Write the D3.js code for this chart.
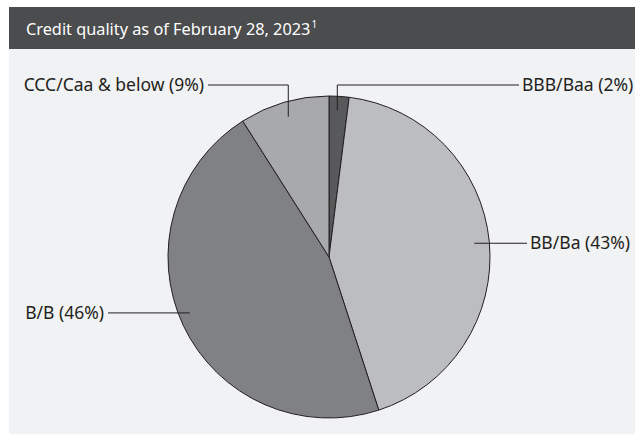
<!DOCTYPE html>
<html>
<head>
<meta charset="utf-8">
<script src="https://cdn.jsdelivr.net/npm/d3@7"></script>
<style>
  body { margin: 0; background: #fff; font-family: "Noto Sans", "Open Sans", sans-serif; }
</style>
</head>
<body>
<div id="chart"></div>
<script>
// chart data
var categories = ["BBB/Baa", "BB/Ba", "B/B", "CCC/Caa & below"];
var values = [2, 43, 46, 9];
var colors = ["#58595b", "#bcbdc0", "#808184", "#a7a9ac"];

var w = 635, h = 434;
var cx = 329, cy = 257, radius = 161;

var svg = d3.select("#chart").append("svg")
    .attr("width", w)
    .attr("height", h);

// panel + header
svg.append("rect").attr("x", 9).attr("y", 7).attr("width", w - 9).attr("height", h - 7)
    .attr("fill", "#f1f2f4");
svg.append("rect").attr("x", 9).attr("y", 7).attr("width", w - 9).attr("height", 42)
    .attr("fill", "#4b4c4e");
var title = svg.append("text").attr("x", 26).attr("y", 35)
    .attr("fill", "#fff").attr("font-size", "16.3px");
title.append("tspan").text("Credit quality as of February 28, 2023");
title.append("tspan").attr("font-size", "10px").attr("dy", -7).attr("dx", 1).text("1");

var data = categories.map((c, i) => ({ name: c, value: values[i], color: colors[i] }));

var pie = d3.pie().sort(null).value(d => d.value);
var arc = d3.arc().innerRadius(0).outerRadius(radius);

var g = svg.append("g").attr("transform", `translate(${cx},${cy})`);
var arcs = pie(data);

g.selectAll("path")
    .data(arcs)
    .join("path")
    .attr("d", arc)
    .attr("fill", d => d.data.color)
    .attr("stroke", "#231f20")
    .attr("stroke-width", 1);

// leader layout: angle fraction inside slice, radius of inner end, elbow y, label x
var leaders = [
    { t: 0.45, r: 147, elbowY: 85, endX: 519, side: "right" },
    { t: 0.5, r: 146, elbowY: null, endX: 527, side: "right" },
    { t: 0.52, r: 150, elbowY: null, endX: 108, side: "left" },
    { t: 0.5, r: 146, elbowY: 85, endX: 208, side: "left" }
];

arcs.forEach(function (a, i) {
    var L = leaders[i];
    var ang = a.startAngle + (a.endAngle - a.startAngle) * L.t;
    var px = cx + L.r * Math.sin(ang);
    var py = cy - L.r * Math.cos(ang);
    var pts;
    if (L.elbowY !== null) {
        pts = [[px, py], [px, L.elbowY], [L.endX, L.elbowY]];
    } else {
        pts = [[px, py], [L.endX, py]];
    }
    svg.append("path")
        .attr("d", d3.line()(pts))
        .attr("fill", "none")
        .attr("stroke", "#231f20")
        .attr("stroke-width", 1);
    var ly = pts[pts.length - 1][1];
    svg.append("text")
        .attr("x", L.side === "right" ? L.endX + 3 : L.endX - 4)
        .attr("y", ly + 6)
        .attr("text-anchor", L.side === "right" ? "start" : "end")
        .attr("font-size", "17.5px")
        .attr("fill", "#231f20")
        .text(`${a.data.name} (${a.data.value}%)`);
});
</script>
</body>
</html>
